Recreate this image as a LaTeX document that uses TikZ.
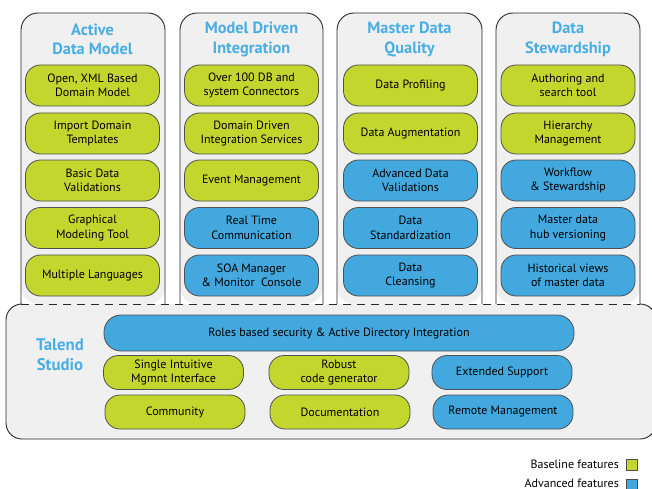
\documentclass[tikz,border=0pt]{standalone}
\usepackage{fontspec}
\setmainfont{PT Sans}
\definecolor{gfill}{RGB}{194,214,46}
\definecolor{bfill}{RGB}{66,168,222}
\definecolor{tblue}{RGB}{72,174,228}
\definecolor{panel}{RGB}{240,240,240}
\definecolor{edge}{RGB}{80,80,80}
\definecolor{frame}{RGB}{40,40,40}
\tikzset{
  feat/.style={draw=edge, line width=0.8pt, rounded corners=15pt, minimum width=134pt, minimum height=41pt, inner sep=0pt, align=center, font=\fontsize{12}{14.5}\selectfont, text=black},
  sfeat/.style={draw=edge, line width=0.8pt, rounded corners=15pt, minimum width=140pt, minimum height=34pt, inner sep=0pt, align=center, font=\fontsize{12}{14.5}\selectfont, text=black},
  base/.style={fill=gfill},
  adv/.style={fill=bfill},
  ttl/.style={align=center, text=tblue, font=\bfseries\fontsize{16.3}{19.5}\selectfont, inner sep=0pt},
  leg/.style={font=\fontsize{12}{14}\selectfont, anchor=base east, inner sep=0pt},
  legbox/.style={draw=edge, line width=0.8pt, minimum width=11pt, minimum height=11pt, inner sep=0pt}
}
\begin{document}
\begin{tikzpicture}[x=1pt, y=-1pt]
\useasboundingbox (0,0) rectangle (652,489);
\fill[white] (0,0) rectangle (652,489);
\clip (0,0) rectangle (652,489);
% column frames
\foreach \l/\r in {21/165, 180/323, 337/482, 496/640}{
  \fill[panel, rounded corners=17pt] (\l,304) -- (\l,13) -- (\r,13) -- (\r,304) -- cycle;
  \draw[frame, line width=0.9pt, rounded corners=17pt] (\l,304) -- (\l,13) -- (\r,13) -- (\r,304);
}
% bottom panel
\fill[panel, rounded corners=16pt] (6,304) rectangle (656,439);
\draw[frame, line width=0.9pt, rounded corners=16pt] (21,304) -- (6,304) -- (6,439) -- (656,439) -- (656,304) -- (640,304);
\draw[frame, line width=0.9pt, dash pattern=on 8pt off 6pt] (21,304) -- (640,304);

% titles
\node[ttl] (t1) at (92.5,39.5) {Active\\Data Model};
\node[ttl] (t2) at (251.5,39.5) {Model Driven\\Integration};
\node[ttl] (t3) at (409.5,39.5) {Master Data\\Quality};
\node[ttl] (t4) at (568,39.5) {Data\\Stewardship};

% column 1
\node[feat,base] (a1) at (92.5,85.5) {Open, XML Based\\Domain Model};
\node[feat,base] (a2) at (92.5,133.5) {Import Domain\\Templates};
\node[feat,base] (a3) at (92.5,180.5) {Basic Data\\Validations};
\node[feat,base] (a4) at (92.5,228) {Graphical\\Modeling Tool};
\node[feat,base] (a5) at (92.5,275.5) {Multiple Languages};
% column 2
\node[feat,base] (b1) at (251.5,85.5) {Over 100 DB and\\system Connectors};
\node[feat,base] (b2) at (251.5,133.5) {Domain Driven\\Integration Services};
\node[feat,base] (b3) at (251.5,180.5) {Event Management};
\node[feat,adv] (b4) at (251.5,228) {Real Time\\Communication};
\node[feat,adv] (b5) at (251.5,275.5) {SOA Manager\\\& Monitor~ Console};
% column 3
\node[feat,base] (c1) at (410.5,85.5) {Data Profiling};
\node[feat,base] (c2) at (410.5,133.5) {Data Augmentation};
\node[feat,adv] (c3) at (410.5,180.5) {Advanced Data\\Validations};
\node[feat,adv] (c4) at (410.5,228) {Data\\Standardization};
\node[feat,adv] (c5) at (410.5,275.5) {Data\\Cleansing};
% column 4
\node[feat,base] (d1) at (568,85.5) {Authoring and\\search tool};
\node[feat,base] (d2) at (568,133.5) {Hierarchy\\Management};
\node[feat,adv] (d3) at (568,180.5) {Workflow\\\& Stewardship};
\node[feat,adv] (d4) at (568,228) {Master data\\hub versioning};
\node[feat,adv] (d5) at (568,275.5) {Historical views\\of master data};

% Talend Studio
\node[ttl, font=\bfseries\fontsize{16.8}{19.5}\selectfont] (ts) at (60,354.5) {Talend\\Studio};
\node[sfeat,adv, minimum width=470pt, minimum height=36pt, rounded corners=17pt] (s0) at (339,333) {Roles based security \& Active Directory Integration};
\node[sfeat,base] (s1) at (173.5,372.5) {Single Intuitive\\Mgmnt Interface};
\node[sfeat,base] (s2) at (339,372.5) {Robust\\code generator};
\node[sfeat,adv] (s3) at (502,372.5) {Extended Support};
\node[sfeat,base] (s4) at (175,412) {Community};
\node[sfeat,base] (s5) at (340,412) {Documentation};
\node[sfeat,adv] (s6) at (503,412) {Remote Management};

% legend
\node[leg] (l1) at (619,468) {Baseline features};
\node[leg] (l2) at (619,487) {Advanced features};
\node[legbox, fill=gfill] (lb1) at (631.5,464.5) {};
\node[legbox, fill=bfill] (lb2) at (631.5,484.5) {};
\end{tikzpicture}
\end{document}
